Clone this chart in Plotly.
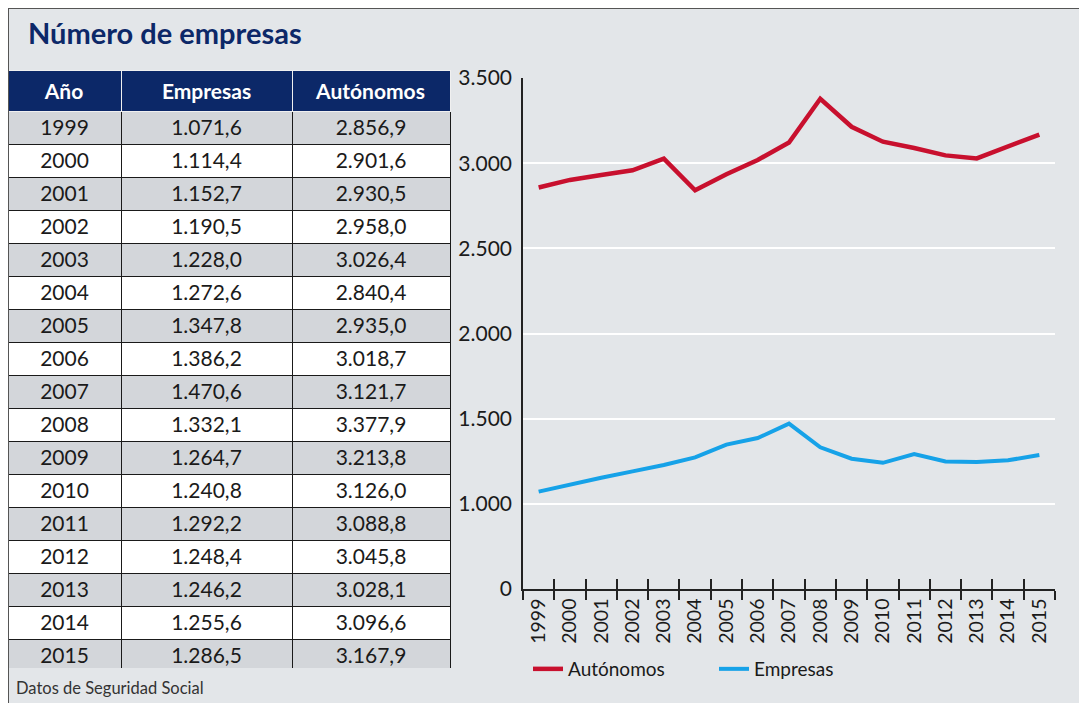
import plotly.graph_objects as go

years = [str(y) for y in range(1999, 2016)]
empresas = [1071.6, 1114.4, 1152.7, 1190.5, 1228.0, 1272.6, 1347.8, 1386.2, 1470.6,
            1332.1, 1264.7, 1240.8, 1292.2, 1248.4, 1246.2, 1255.6, 1286.5]
autonomos = [2856.9, 2901.6, 2930.5, 2958.0, 3026.4, 2840.4, 2935.0, 3018.7, 3121.7,
             3377.9, 3213.8, 3126.0, 3088.8, 3045.8, 3028.1, 3096.6, 3167.9]
headers = ["Año", "Empresas", "Autónomos"]
# broken axis: bottom tick is labelled 0
y_tickvals = [500, 1000, 1500, 2000, 2500, 3000, 3500]
y_ticktext = ["0", "1.000", "1.500", "2.000", "2.500", "3.000", "3.500"]

W, H = 1087, 703
OFF = 8  # page body offset
FONT = "Lato"
BG = "#e3e6e9"
NAVY = "#0c2868"


def fmt(v):
    s = f"{v:,.1f}"
    return s.replace(",", "X").replace(".", ",").replace("X", ".")


def px_x(x):
    return (x - OFF) / W


def px_y(y):
    return 1 - (y - OFF) / H


row_fill = ["#d3d6da" if i % 2 == 0 else "#ffffff" for i in range(len(years))]

fig = go.Figure()

fig.add_trace(go.Table(
    domain=dict(x=[px_x(8), px_x(450)], y=[px_y(668), px_y(70)]),
    columnwidth=[113, 171, 158],
    header=dict(values=[f"<b>{h}</b>" for h in headers],
                fill_color=NAVY, line_color="#f0f0f0", line_width=1,
                font=dict(family=FONT, size=21, color="white"),
                align="center", height=33),
    cells=dict(values=[years, [fmt(v) for v in empresas], [fmt(v) for v in autonomos]],
               fill_color=[row_fill] * 3, line_color="#1a1a1a", line_width=1,
               font=dict(family=FONT, size=21, color="#1a1a1a"),
               align="center", height=33),
))

fig.add_trace(go.Scatter(x=years, y=autonomos, mode="lines", name="Autónomos",
                         line=dict(color="#c8102e", width=4.5), hoverinfo="skip"))
fig.add_trace(go.Scatter(x=years, y=empresas, mode="lines", name="Empresas",
                         line=dict(color="#16a2e8", width=4), hoverinfo="skip"))
# helper trace for the inner half of crossing tick marks
fig.add_trace(go.Scatter(x=years, y=empresas, mode="lines", xaxis="x2", showlegend=False,
                         line=dict(color="rgba(0,0,0,0)", width=0), hoverinfo="skip"))

xdom = [px_x(523), px_x(1055)]
ydom = [px_y(589), px_y(78)]

fig.update_layout(
    width=W, height=H,
    margin=dict(l=0, r=0, t=0, b=0, autoexpand=False),
    paper_bgcolor=BG, plot_bgcolor=BG,
    font=dict(family=FONT, color="#1a1a1a"),
    xaxis=dict(domain=xdom, type="category", tickson="boundaries",
               ticks="outside", ticklen=9, tickcolor="#222", tickwidth=1.5,
               showline=True, linecolor="#222", linewidth=1.5,
               showgrid=False, tickangle=-90, automargin=False,
               tickfont=dict(family=FONT, size=19.5, color="#1a1a1a"),
               range=[-0.5, 16.5], anchor="y"),
    xaxis2=dict(domain=xdom, type="category", tickson="boundaries", overlaying="x",
                ticks="inside", ticklen=10, tickcolor="#222", tickwidth=1.5,
                showticklabels=False, showline=False, showgrid=False, automargin=False,
                range=[-0.5, 16.5], anchor="y"),
    yaxis=dict(domain=ydom, range=[500, 3500], tickvals=y_tickvals, ticktext=y_ticktext,
               showgrid=True, gridcolor="white", gridwidth=2,
               showline=True, linecolor="#222", linewidth=1.5,
               ticks="", zeroline=False, automargin=False, ticklabelstandoff=5,
               tickfont=dict(family=FONT, size=21, color="#1a1a1a"), anchor="x"),
    legend=dict(orientation="h", x=px_x(528), y=px_y(669), xanchor="left", yanchor="middle",
                font=dict(family=FONT, size=19, color="#1a1a1a"), bgcolor="rgba(0,0,0,0)",
                entrywidth=141, tracegroupgap=0),
    showlegend=True,
    annotations=[
        dict(text="<b>Número de empresas</b>", x=px_x(26), y=px_y(33), xref="paper", yref="paper",
             xanchor="left", yanchor="middle", showarrow=False,
             font=dict(family=FONT, size=29, color=NAVY)),
        dict(text="Datos de Seguridad Social", x=px_x(14), y=px_y(688), xref="paper", yref="paper",
             xanchor="left", yanchor="middle", showarrow=False,
             font=dict(family=FONT, size=16.5, color="#333333")),
    ],
    shapes=[dict(type="rect", xref="paper", yref="paper", x0=0, x1=1.02, y0=-0.02, y1=1,
                 line=dict(color="#555555", width=2), fillcolor="rgba(0,0,0,0)", layer="above")],
)

fig.write_html("out.html")
